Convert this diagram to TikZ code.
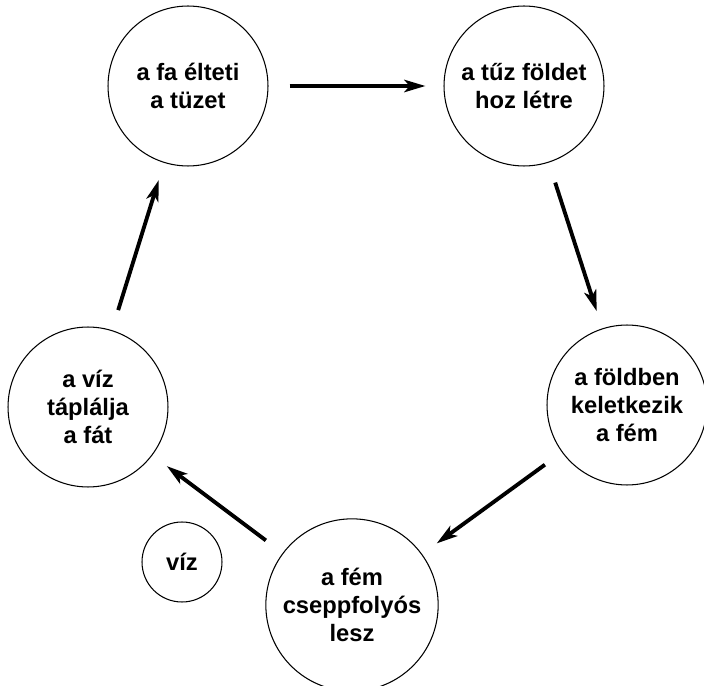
\documentclass[tikz,border=0pt]{standalone}
\usepackage{fontspec}
\setmainfont{Liberation Sans}
\usetikzlibrary{arrows.meta}

\begin{document}
\begin{tikzpicture}[x=0.02cm, y=-0.02cm, >={Stealth[length=12pt, width=7pt, inset=3pt]}]
        \useasboundingbox (0,0) rectangle (704,686);
        \tikzset{elem/.style={draw, semithick, circle, minimum size=3.2cm, align=center,
            font=\bfseries\fontsize{13.5}{16}\selectfont}}

        \node[elem] (fa) at (188,86) {a fa élteti\\a tüzet};
        \node[elem] (tuz) at (524,86) {a tűz földet\\hoz létre};
        \node[elem] (fold) at (627,405) {a földben\\keletkezik\\a fém};
        \node[elem] (fem) at (352,605) {a fém\\cseppfolyós\\lesz};
        \node[elem] (viz) at (88,407) {a víz\\táplálja\\a fát};
        \node[elem, minimum size=1.6cm] (vizkicsi) at (182,562) {víz};

        \foreach \a/\b in {fa/tuz, tuz/fold, fold/fem, fem/viz, viz/fa} {
            \draw[->, line width=2.2pt, shorten <=0.42cm, shorten >=0.36cm] (\a) -- (\b);
        }
\end{tikzpicture}
\end{document}
